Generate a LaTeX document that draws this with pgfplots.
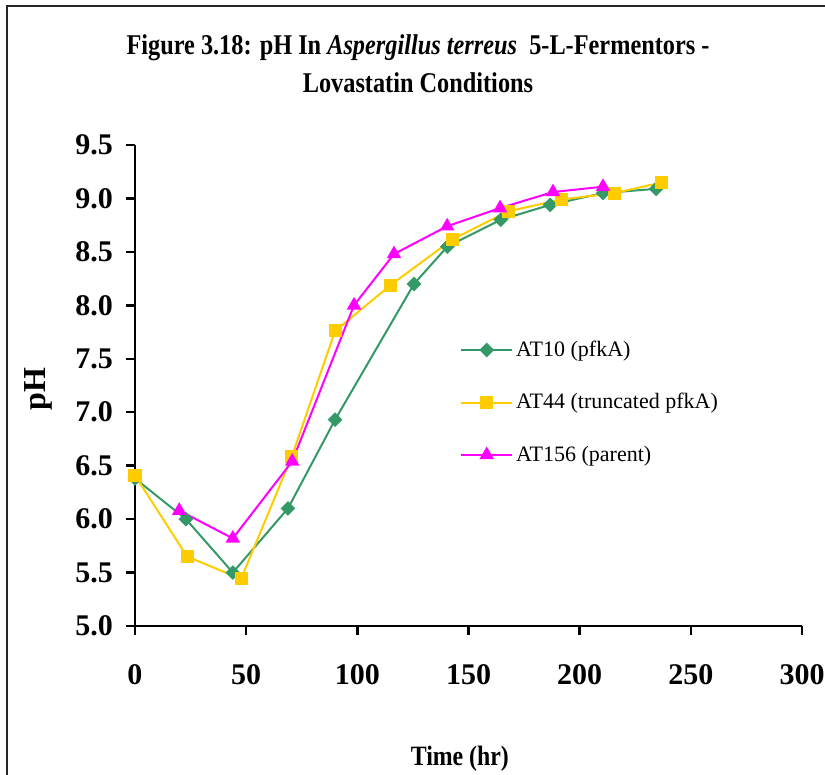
\documentclass[border=0pt]{standalone}
\usepackage{pgfplots}
\pgfplotsset{compat=1.18}
\usepackage{fontspec}
\setmainfont{Liberation Serif}
\newfontfamily\condfont[FakeStretch=0.85]{Liberation Serif}
\definecolor{sgreen}{RGB}{51,153,102}
\definecolor{gold}{RGB}{255,204,0}
\definecolor{magen}{RGB}{255,0,255}
\begin{document}
\begin{tikzpicture}
\path[use as bounding box] (0pt,0pt) rectangle (412.5pt,-387.5pt);
\draw[line width=1pt, black!85] (3.5pt,-390pt) -- (3.5pt,-3pt) -- (415pt,-3pt);
\node[anchor=base, font=\condfont\bfseries\fontsize{14.3}{16}\selectfont] at (209pt,-27.5pt) {Figure 3.18: pH In \textit{Aspergillus terreus}\ \ 5-L-Fermentors -};
\node[anchor=base, font=\condfont\bfseries\fontsize{14.3}{16}\selectfont] at (209pt,-46.5pt) {Lovastatin Conditions};
\begin{axis}[
  at={(67.5pt,-313pt)}, anchor=south west,
  scale only axis, width=333.5pt, height=240.5pt,
  xmin=0, xmax=300, ymin=5, ymax=9.5,
  xtick={0,50,...,300}, ytick={5,5.5,...,9.5},
  axis x line=bottom, axis y line=left,
  axis line style={-, line width=1.2pt, black},
  tick style={line width=1.2pt, black},
  tick align=outside, major tick length=4.5pt,
  /pgf/number format/assume math mode=true,
  ticklabel style={font=\bfseries\fontsize{15}{15}\selectfont},
  yticklabel style={/pgf/number format/.cd, fixed, fixed zerofill, precision=1},
  xticklabel style={/pgf/number format/.cd, fixed, precision=0},
  xticklabel shift=11pt,
  yticklabel shift=3pt,
  xlabel={Time (hr)},
  xlabel style={font=\condfont\bfseries\fontsize{14}{14}\selectfont, at={(rel axis cs:0.487,-0.289)}, anchor=base},
  ylabel={pH},
  ylabel style={font=\bfseries\fontsize{16}{16}\selectfont, at={(rel axis cs:-0.1454,0.4927)}, anchor=center, rotate=0},
  legend cell align=left,
  legend style={draw=none, fill=none, at={(rel axis cs:0.487,0.6)}, anchor=north west,
    font=\fontsize{11}{12}\selectfont, row sep=14pt, inner sep=0pt,
    nodes={inner sep=1.5pt}},
  legend image code/.code={\draw[mark repeat=2, mark phase=2] plot coordinates {(0pt,0pt) (12.75pt,0pt) (25.5pt,0pt)};},
  clip=false,
]
\addplot[sgreen, line width=1pt, mark=square*, mark size=2.1pt, mark options={rotate=45, fill=sgreen}] coordinates {
(0,6.38) (22.9,6.0) (44,5.5) (68.8,6.1) (90,6.93) (125.5,8.2) (140.5,8.55) (164.5,8.8) (186.7,8.94) (210.5,9.05) (234.4,9.09)};
\addlegendentry{AT10 (pfkA)}
\addplot[gold, line width=1pt, mark=square*, mark size=2.75pt, mark options={fill=gold}] coordinates {
(0,6.41) (23.4,5.65) (47.7,5.44) (70.6,6.59) (90,7.76) (115,8.19) (143,8.62) (167.9,8.88) (191.7,8.99) (215.6,9.05) (237,9.15)};
\addlegendentry{AT44 (truncated pfkA)}
\addplot[magen, line width=1pt, mark=triangle*, mark size=3.2pt, mark options={fill=magen}] coordinates {
(19.9,6.08) (44,5.82) (70.7,6.54) (98.5,8.0) (116.5,8.48) (140.4,8.74) (164.2,8.91) (188,9.06) (210.5,9.11)};
\addlegendentry{AT156 (parent)}
\end{axis}
\end{tikzpicture}
\end{document}
